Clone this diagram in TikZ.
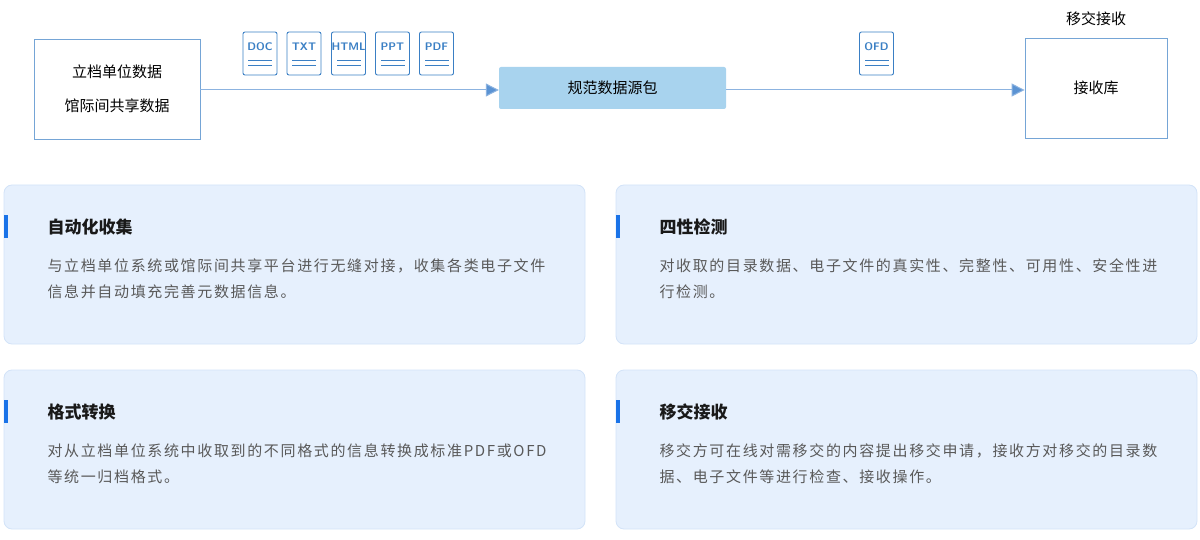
\documentclass[tikz,border=0pt]{standalone}
\usepackage{fontspec}
\setmainfont{Noto Sans CJK SC}
\newfontfamily\cjk[LetterSpace=11]{Noto Sans CJK SC}
\usetikzlibrary{arrows.meta}
\definecolor{cardfill}{HTML}{E6F0FD}
\definecolor{carddraw}{HTML}{D3E3F8}
\definecolor{accent}{HTML}{1A73E8}
\definecolor{iconc}{HTML}{3A7FC4}
\definecolor{arrowc}{HTML}{5B93D3}
\definecolor{pkg}{HTML}{A8D3EE}
\begin{document}
\begin{tikzpicture}[x=1pt,y=-1pt,
  box/.style={draw=iconc!70, line width=0.8pt, fill=white, inner sep=0pt},
  icon/.style={draw=iconc, line width=0.9pt, rounded corners=2pt, minimum width=34pt, minimum height=43pt, inner sep=0pt},
  card/.style={draw=carddraw, fill=cardfill, rounded corners=8pt, line width=0.8pt},
  title/.style={anchor=west, font=\fontsize{17}{20}\selectfont\bfseries, text=black!90},
  body/.style={anchor=north west, align=left, font=\cjk\fontsize{15}{26}\selectfont, text=black!65},
  conn/.style={draw=arrowc!70, line width=1pt, -{Triangle[length=13pt,width=13pt,fill=arrowc]}}]
\useasboundingbox (0,0) rectangle (1200,540);
% top row
\node[box, minimum width=166pt, minimum height=100pt, align=center, font=\fontsize{15}{34}\selectfont] (src) at (117,89) {立档单位数据\\馆际间共享数据};
\node[fill=pkg, rounded corners=2pt, minimum width=227pt, minimum height=42pt, font=\fontsize{15}{18}\selectfont] (pkg) at (612.5,88) {规范数据源包};
\node[box, minimum width=142pt, minimum height=100pt, font=\fontsize{15}{18}\selectfont] (recv) at (1096,88) {接收库};
\node[font=\fontsize{15}{18}\selectfont] (recvlbl) at (1096,19) {移交接收};
\draw[conn] (src.east |- 0,90) -- (pkg.west |- 0,90) coordinate (a1);
\draw[conn] (pkg.east |- 0,90) -- (recv.west |- 0,90);
\foreach \n/\x/\t in {doc/260/DOC, txt/304/TXT, html/348.5/HTML, ppt/392.5/PPT, pdf/436.5/PDF, ofd/876.5/OFD}{
  \node[icon] (\n) at (\x,53.5) {};
  \node[font=\sffamily\bfseries\fontsize{11}{13}\selectfont, text=iconc] (\n t) at (\x,47) {\t};
  \draw[iconc, line width=0.9pt] ([xshift=12pt,yshift=-7pt]\n.center) -- ([xshift=-12pt,yshift=-7pt]\n.center);
  \draw[iconc, line width=0.9pt] ([xshift=12pt,yshift=-12pt]\n.center) -- ([xshift=-12pt,yshift=-12pt]\n.center);
}
% cards
\foreach \n/\x/\y/\t/\b in {
 c1/4/185/自动化收集/{与立档单位系统或馆际间共享平台进行无缝对接，收集各类电子文件\\信息并自动填充完善元数据信息。},
 c2/616/185/四性检测/{对收取的目录数据、电子文件的真实性、完整性、可用性、安全性进\\行检测。},
 c3/4/370/格式转换/{对从立档单位系统中收取到的不同格式的信息转换成标准PDF或OFD\\等统一归档格式。},
 c4/616/370/移交接收/{移交方可在线对需移交的内容提出移交申请，接收方对移交的目录数\\据、电子文件等进行检查、接收操作。}}{
  \draw[card] (\x,\y) rectangle ++(581,159);
  \fill[accent] (\x,\y+30) rectangle ++(3.5,23);
  \node[title] (\n t) at (\x+40,\y+42) {\t};
  \node[body] (\n b) at (\x+40,\y+70) {\b};
}
\end{tikzpicture}
\end{document}
